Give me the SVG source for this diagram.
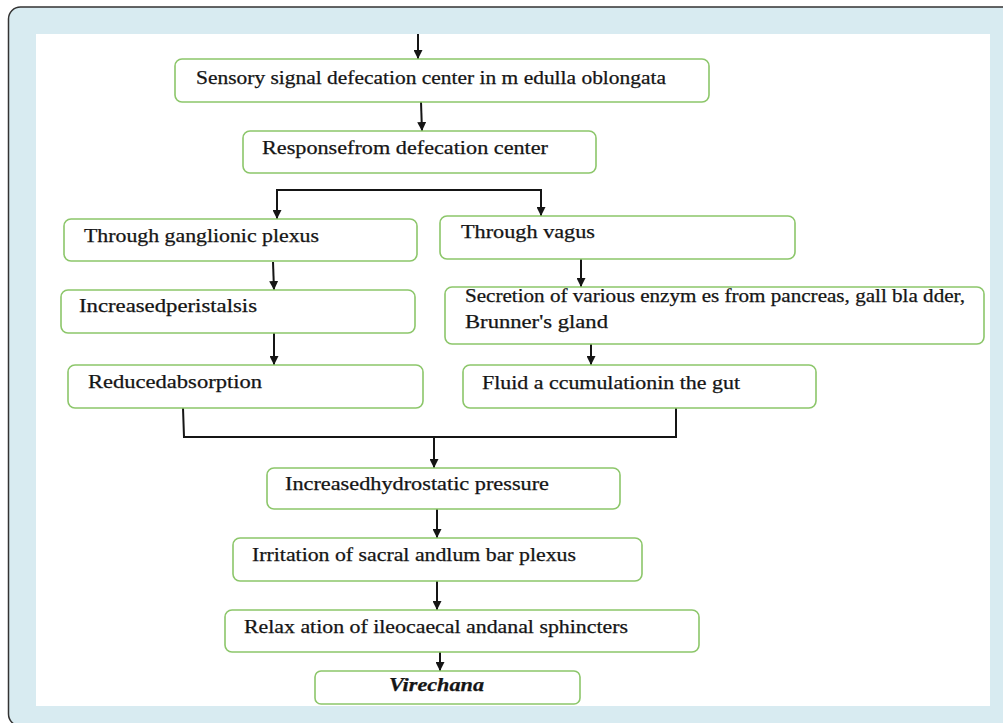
<svg xmlns="http://www.w3.org/2000/svg" width="1003" height="723" viewBox="0 0 1003 723">
<style>
.box{fill:#fff;stroke:#8cc66a;stroke-width:1.6}
.t{font-family:"Liberation Serif","Times New Roman",serif;font-size:18px;fill:#151515;stroke:#151515;stroke-width:0.25}
.ln{fill:none;stroke:#151515;stroke-width:2}
.ar{fill:none;stroke:#151515;stroke-width:2;marker-end:url(#ah)}
</style>
<defs>
<marker id="ah" viewBox="0 0 10 10" refX="10" refY="5" markerWidth="9" markerHeight="9" markerUnits="userSpaceOnUse" orient="auto">
<path d="M0,0 L10,5 L0,10 Z" fill="#151515"/>
</marker>
</defs>
<rect x="8.5" y="7" width="1010" height="719" rx="12" fill="#d8ebf1" stroke="#333" stroke-width="1.5"/>
<rect x="36" y="34" width="954" height="672" fill="#fff"/>

<g id="connectors">
<line class="ar" x1="418" y1="34" x2="418" y2="59"/>
<line class="ar" x1="421" y1="102" x2="422" y2="131"/>
<polyline class="ln" points="277,190 541,190"/>
<line class="ar" x1="277" y1="189" x2="277" y2="219"/>
<line class="ar" x1="541" y1="189" x2="541" y2="216"/>
<line class="ar" x1="273" y1="262" x2="274" y2="290"/>
<line class="ar" x1="274" y1="333" x2="274" y2="365"/>
<line class="ar" x1="581" y1="259" x2="581" y2="287"/>
<line class="ar" x1="591" y1="344" x2="591" y2="365"/>
<polyline class="ln" points="183,408 184,437 676,437 676,408"/>
<line class="ar" x1="434" y1="437" x2="434" y2="468"/>
<line class="ar" x1="437" y1="509" x2="437" y2="538"/>
<line class="ar" x1="437" y1="581" x2="437" y2="610"/>
<line class="ar" x1="440" y1="652" x2="440" y2="671"/>
</g>

<g id="n1"><rect class="box" x="175" y="59" width="534" height="43" rx="7"/>
<text class="t" x="196" y="84" textLength="470" lengthAdjust="spacingAndGlyphs">Sensory signal defecation center in m edulla oblongata</text></g>
<g id="n2"><rect class="box" x="243" y="131" width="353" height="42" rx="7"/>
<text class="t" x="262" y="154" textLength="286" lengthAdjust="spacingAndGlyphs">Responsefrom defecation center</text></g>
<g id="n3"><rect class="box" x="64" y="219" width="353" height="42" rx="7"/>
<text class="t" x="84" y="242" textLength="235" lengthAdjust="spacingAndGlyphs">Through ganglionic plexus</text></g>
<g id="n4"><rect class="box" x="440" y="216" width="355" height="43" rx="7"/>
<text class="t" x="461" y="238" textLength="134" lengthAdjust="spacingAndGlyphs">Through vagus</text></g>
<g id="n5"><rect class="box" x="61" y="290" width="354" height="43" rx="7"/>
<text class="t" x="79" y="312" textLength="178" lengthAdjust="spacingAndGlyphs">Increasedperistalsis</text></g>
<g id="n6"><rect class="box" x="445" y="287" width="539" height="57" rx="7"/>
<text class="t" x="465" y="302" textLength="500" lengthAdjust="spacingAndGlyphs">Secretion of various enzym es from pancreas, gall bla dder,</text>
<text class="t" x="465" y="328" textLength="143" lengthAdjust="spacingAndGlyphs">Brunner's gland</text></g>
<g id="n7"><rect class="box" x="68" y="365" width="355" height="43" rx="7"/>
<text class="t" x="88" y="388" textLength="174" lengthAdjust="spacingAndGlyphs">Reducedabsorption</text></g>
<g id="n8"><rect class="box" x="463" y="365" width="353" height="43" rx="7"/>
<text class="t" x="482" y="389" textLength="258" lengthAdjust="spacingAndGlyphs">Fluid a ccumulationin the gut</text></g>
<g id="n9"><rect class="box" x="267" y="468" width="353" height="41" rx="7"/>
<text class="t" x="285" y="490" textLength="264" lengthAdjust="spacingAndGlyphs">Increasedhydrostatic pressure</text></g>
<g id="n10"><rect class="box" x="233" y="538" width="409" height="43" rx="7"/>
<text class="t" x="252" y="561" textLength="324" lengthAdjust="spacingAndGlyphs">Irritation of sacral andlum bar plexus</text></g>
<g id="n11"><rect class="box" x="225" y="610" width="474" height="42" rx="7"/>
<text class="t" x="244" y="633" textLength="384" lengthAdjust="spacingAndGlyphs">Relax ation of ileocaecal andanal sphincters</text></g>
<g id="n12"><rect class="box" x="315" y="671" width="265" height="33" rx="6"/>
<text class="t" x="389" y="691" textLength="95" lengthAdjust="spacingAndGlyphs" font-style="italic" font-weight="bold">Virechana</text></g>
</svg>
